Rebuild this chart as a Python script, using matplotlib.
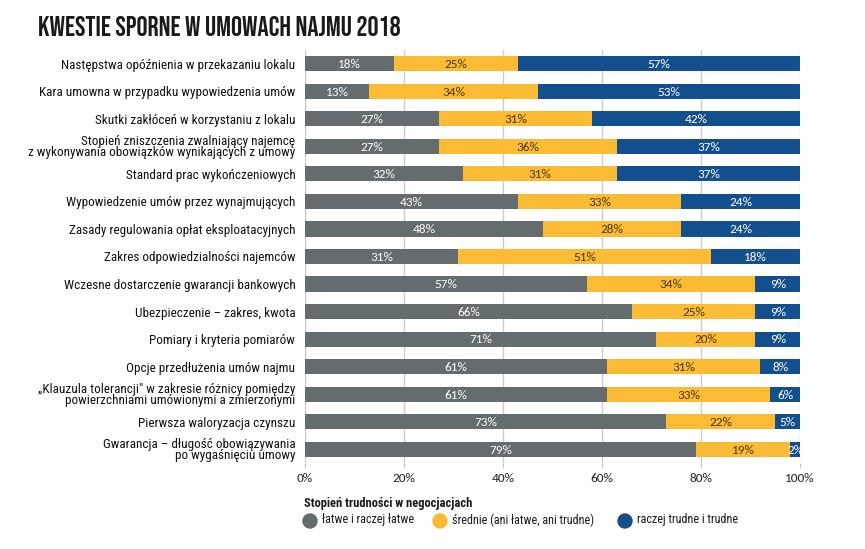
import matplotlib
matplotlib.use("Agg")
import matplotlib.pyplot as plt
import numpy as np

# Dane
kategorie = [
    "Następstwa opóźnienia w przekazaniu lokalu",
    "Kara umowna w przypadku wypowiedzenia umów",
    "Skutki zakłóceń w korzystaniu z lokalu",
    "Stopień zniszczenia zwalniający najemcę\nz wykonywania obowiązków wynikających z umowy",
    "Standard prac wykończeniowych",
    "Wypowiedzenie umów przez wynajmujących",
    "Zasady regulowania opłat eksploatacyjnych",
    "Zakres odpowiedzialności najemców",
    "Wczesne dostarczenie gwarancji bankowych",
    "Ubezpieczenie – zakres, kwota",
    "Pomiary i kryteria pomiarów",
    "Opcje przedłużenia umów najmu",
    "„Klauzula tolerancji\" w zakresie różnicy pomiędzy\npowierzchniami umówionymi a zmierzonymi",
    "Pierwsza waloryzacja czynszu",
    "Gwarancja – długość obowiązywania\npo wygaśnięciu umowy",
]
latwe = [18, 13, 27, 27, 32, 43, 48, 31, 57, 66, 71, 61, 61, 73, 79]
srednie = [25, 34, 31, 36, 31, 33, 28, 51, 34, 25, 20, 31, 33, 22, 19]
trudne = [57, 53, 42, 37, 37, 24, 24, 18, 9, 9, 9, 8, 6, 5, 2]

serie = [
    ("łatwe i raczej łatwe", latwe, "#646c70", "white"),
    ("średnie (ani łatwe, ani trudne)", srednie, "#fbbb34", "#4a3a10"),
    ("raczej trudne i trudne", trudne, "#134f8c", "white"),
]

f_tytul = ["Bebas Neue", "Roboto", "DejaVu Sans"]
f_cond = ["Roboto Condensed", "Roboto", "DejaVu Sans"]
f_liczby = ["Carlito", "Open Sans", "DejaVu Sans"]

fig = plt.figure(figsize=(8.65, 5.49), dpi=100)
ax = fig.add_axes([0.3526, 0.1566, 0.5723, 0.7524])

y = np.arange(len(kategorie))
left = np.zeros(len(kategorie))
uchwyty = []
for nazwa, wartosci, kolor, kolor_txt in serie:
    w = np.array(wartosci, dtype=float)
    ax.barh(y, w, left=left, height=0.55, color=kolor, zorder=3)
    uchwyty.append((nazwa, kolor))
    for yi, (l, v) in enumerate(zip(left, w)):
        ax.text(l + v / 2, yi + 0.03, f"{int(v)}%", ha="center", va="center",
                color=kolor_txt, fontsize=9.5, family=f_liczby, zorder=4)
    left = left + w

ax.set_xlim(0, 100)
ax.set_ylim(len(kategorie) - 0.5, -0.5)
ax.set_xticks([0, 20, 40, 60, 80, 100])
ax.set_xticklabels(["0%", "20%", "40%", "60%", "80%", "100%"],
                   fontsize=9.5, color="#222222", family=f_liczby)
ax.set_yticks(y)
ax.set_yticklabels(kategorie, fontsize=9.5, family=f_cond, color="#111111",
                   linespacing=0.85)
ax.tick_params(axis="y", length=0, pad=7)
ax.tick_params(axis="x", length=3, color="#bbbbbb", pad=4)
ax.grid(axis="x", color="#cccccc", linewidth=1, zorder=0)
for s in ax.spines.values():
    s.set_visible(False)

# Tytuł
fig.text(38 / 865, 1 - 26 / 549, "KWESTIE SPORNE W UMOWACH NAJMU 2018",
         fontsize=20, fontweight="bold", family=f_tytul,
         color="#1a1a1a", va="center", ha="left")

# Legenda
fig.text(304 / 865, 1 - 503 / 549, "Stopień trudności w negocjacjach",
         fontsize=9, fontweight="bold", family=f_cond, color="#1a1a1a",
         va="center", ha="left")
pozycje = [310, 440, 625]
for (nazwa, kolor), px in zip(uchwyty, pozycje):
    fig.patches.append(matplotlib.patches.Ellipse(
        (px / 865, 1 - 521 / 549), 14 / 865, 14 / 549,
        transform=fig.transFigure, color=kolor))
    fig.text((px + 12) / 865, 1 - 520 / 549, nazwa, fontsize=8.7,
             family=f_cond, color="#1a1a1a", va="center", ha="left")

fig.savefig("out.png", dpi=100, facecolor="white")
